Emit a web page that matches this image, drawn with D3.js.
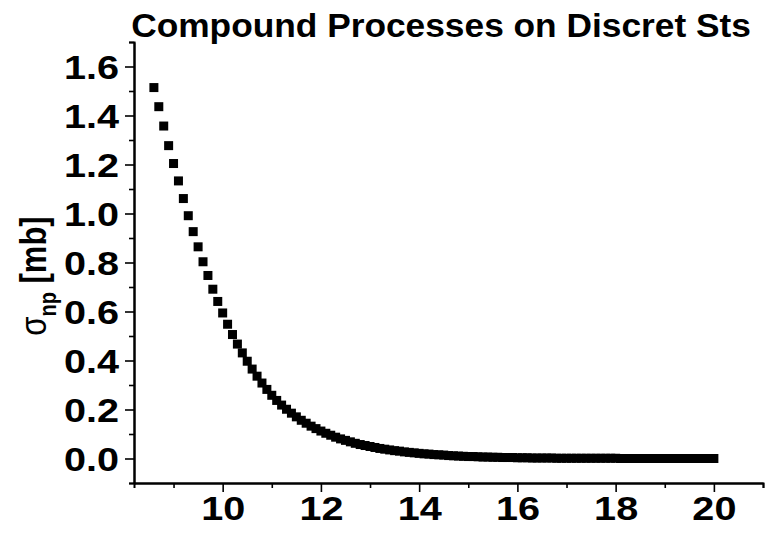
<!DOCTYPE html>
<html>
<head>
<meta charset="utf-8">
<script src="https://cdn.jsdelivr.net/npm/d3@7/dist/d3.min.js"></script>
<style>
  html, body { margin: 0; padding: 0; background: #fff; }
  svg { display: block; }
  text { font-family: "Liberation Sans", Arial, sans-serif; font-weight: bold; fill: #000; }
</style>
</head>
<body>
<div id="chart"></div>
<script>
// Nucleon-pair cross section versus energy
const energy = [
  8.6, 8.7, 8.8, 8.9, 9.0, 9.1, 9.2, 9.3, 9.4, 9.5,
  9.6, 9.7, 9.8, 9.9, 10.0, 10.1, 10.2, 10.3, 10.4, 10.5,
  10.6, 10.7, 10.8, 10.9, 11.0, 11.1, 11.2, 11.3, 11.4, 11.5,
  11.6, 11.7, 11.8, 11.9, 12.0, 12.1, 12.2, 12.3, 12.4, 12.5,
  12.6, 12.7, 12.8, 12.9, 13.0, 13.1, 13.2, 13.3, 13.4, 13.5,
  13.6, 13.7, 13.8, 13.9, 14.0, 14.1, 14.2, 14.3, 14.4, 14.5,
  14.6, 14.7, 14.8, 14.9, 15.0, 15.1, 15.2, 15.3, 15.4, 15.5,
  15.6, 15.7, 15.8, 15.9, 16.0, 16.1, 16.2, 16.3, 16.4, 16.5,
  16.6, 16.7, 16.8, 16.9, 17.0, 17.1, 17.2, 17.3, 17.4, 17.5,
  17.6, 17.7, 17.8, 17.9, 18.0, 18.1, 18.2, 18.3, 18.4, 18.5,
  18.6, 18.7, 18.8, 18.9, 19.0, 19.1, 19.2, 19.3, 19.4, 19.5,
  19.6, 19.7, 19.8, 19.9, 20.0
];
const sigma = [
  1.514, 1.436, 1.357, 1.277, 1.204, 1.133, 1.061, 0.991, 0.926, 0.864,
  0.803, 0.747, 0.691, 0.641, 0.594, 0.548, 0.506, 0.467, 0.431, 0.397,
  0.365, 0.336, 0.308, 0.282, 0.258, 0.237, 0.218, 0.201, 0.185, 0.170,
  0.156, 0.144, 0.132, 0.122, 0.112, 0.103, 0.095, 0.087, 0.080, 0.074,
  0.068, 0.062, 0.057, 0.053, 0.049, 0.045, 0.041, 0.038, 0.035, 0.032,
  0.030, 0.027, 0.025, 0.023, 0.021, 0.019, 0.018, 0.016, 0.015, 0.014,
  0.012, 0.011, 0.010, 0.009, 0.008, 0.008, 0.007, 0.006, 0.006, 0.005,
  0.005, 0.004, 0.004, 0.004, 0.003, 0.003, 0.003, 0.002, 0.002, 0.002,
  0.002, 0.002, 0.001, 0.001, 0.001, 0.001, 0.001, 0.001, 0.001, 0.001,
  0.001, 0.001, 0.001, 0.001, 0.001, 0.000, 0.000, 0.000, 0.000, 0.000,
  0.000, 0.000, 0.000, 0.000, 0.000, 0.000, 0.000, 0.000, 0.000, 0.000,
  0.000, 0.000, 0.000, 0.000, 0.000
];
const xMajorTicks = [10, 12, 14, 16, 18, 20];
const xMinorTicks = [9, 11, 13, 15, 17, 19, 21];
const yMajorTicks = [0.0, 0.2, 0.4, 0.6, 0.8, 1.0, 1.2, 1.4, 1.6];
const yMinorTicks = [-0.1, 0.1, 0.3, 0.5, 0.7, 0.9, 1.1, 1.3, 1.5, 1.7];
const titleText = "Compound Processes on Discret Sts";

const W = 765, H = 533;
const plot = { left: 134, right: 763, top: 42, bottom: 483 };
const labelStretch = 1.2;   // wide numerals

const svg = d3.select("#chart").append("svg")
  .attr("width", W).attr("height", H);

const x = d3.scaleLinear().domain([8.195, 21.0]).range([plot.left, plot.right]);
const y = d3.scaleLinear().domain([-0.1, 1.7]).range([plot.bottom, plot.top]);

// axes: outward ticks, majors labelled
const axisStyle = g => {
  g.select(".domain").attr("stroke-width", 2);
  g.selectAll(".tick line").attr("stroke-width", 1.6);
};

svg.append("g")
  .attr("transform", `translate(0,${plot.bottom})`)
  .call(d3.axisBottom(x).tickValues(xMinorTicks).tickSize(5).tickFormat(""))
  .call(axisStyle);
const xAxis = svg.append("g")
  .attr("transform", `translate(0,${plot.bottom})`)
  .call(d3.axisBottom(x).tickValues(xMajorTicks).tickSize(9).tickSizeOuter(0)
        .tickFormat(d3.format("d")))
  .call(axisStyle);
xAxis.selectAll(".tick text")
  .style("font-size", "33px")
  .attr("x", 0).attr("y", 0).attr("dy", null)
  .attr("transform", `translate(0,37) scale(${labelStretch},1)`);

svg.append("g")
  .attr("transform", `translate(${plot.left},0)`)
  .call(d3.axisLeft(y).tickValues(yMinorTicks).tickSize(5).tickFormat(""))
  .call(axisStyle);
const yAxis = svg.append("g")
  .attr("transform", `translate(${plot.left},0)`)
  .call(d3.axisLeft(y).tickValues(yMajorTicks).tickSize(9).tickSizeOuter(0)
        .tickFormat(d3.format(".1f")))
  .call(axisStyle);
yAxis.selectAll(".tick text")
  .style("font-size", "33px")
  .attr("x", 0).attr("dy", "0.36em")
  .attr("transform", `translate(-15,0) scale(${labelStretch},1)`);

// square markers
const size = 9;
svg.append("g")
  .selectAll("rect")
  .data(energy.map((e, i) => [e, sigma[i]]))
  .join("rect")
  .attr("x", d => x(d[0]) - size / 2)
  .attr("y", d => y(d[1]) - size / 2)
  .attr("width", size)
  .attr("height", size)
  .attr("fill", "#000");

// title
svg.append("text")
  .attr("transform", "translate(441,37) scale(1.07,1)")
  .attr("text-anchor", "middle")
  .style("font-size", "33px")
  .text(titleText);

// y-axis label: sigma with subscript np
const yl = svg.append("text")
  .attr("transform", `translate(46,276) scale(${labelStretch},1) rotate(-90)`)
  .attr("text-anchor", "middle")
  .style("font-size", "31px");
yl.append("tspan").style("font-weight", "normal").text("σ");
yl.append("tspan").attr("dy", 8).style("font-size", "20px").text("np");
yl.append("tspan").attr("dy", -8).text(" [mb]");
</script>
</body>
</html>
